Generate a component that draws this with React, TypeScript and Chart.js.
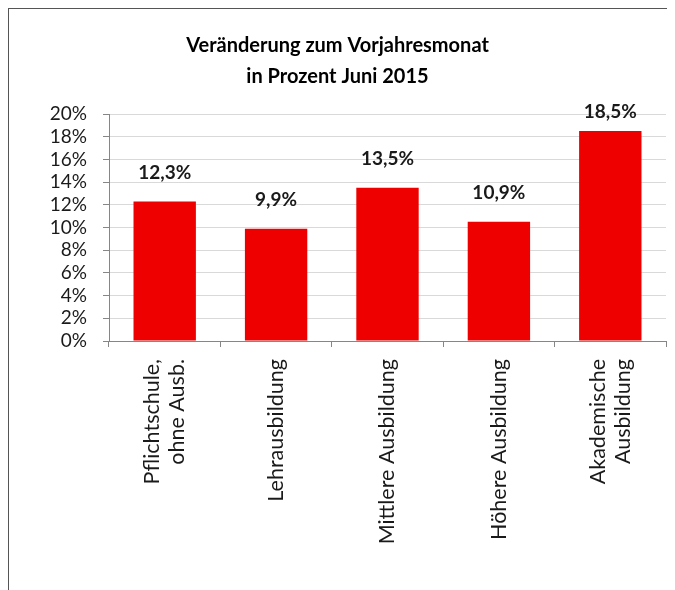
import React, { useEffect, useRef } from "react";
import { Chart, registerables } from "chart.js";

Chart.register(...registerables);

const categories: (string | string[])[] = [
  ["Pflichtschule,", "ohne Ausb."],
  "Lehrausbildung",
  "Mittlere Ausbildung",
  "Höhere Ausbildung",
  ["Akademische", "Ausbildung"],
];
const values = [12.3, 9.9, 13.5, 10.5, 18.5];
const valueLabels = ["12,3%", "9,9%", "13,5%", "10,9%", "18,5%"];
const titleLines = ["Veränderung zum Vorjahresmonat", "in Prozent Juni 2015"];

const FONT = "Lato, sans-serif";
const AXIS = "#868686";
const TEXT = "#1a1a1a";

const labelPlugin = {
  id: "valueLabels",
  afterDatasetsDraw(chart: any) {
    const { ctx, chartArea } = chart;
    const meta = chart.getDatasetMeta(0);
    ctx.save();
    ctx.font = `bold 19px ${FONT}`;
    ctx.fillStyle = TEXT;
    ctx.textAlign = "center";
    ctx.textBaseline = "middle";
    meta.data.forEach((bar: any, i: number) => {
      const y = Math.max(bar.y - 29, chartArea.top - 2);
      ctx.fillText(valueLabels[i], bar.x, y);
    });
    ctx.restore();
  },
};

// rotated category labels, each block centred on its category
const xLabelPlugin = {
  id: "xLabels",
  afterDraw(chart: any) {
    const { ctx, chartArea } = chart;
    const xs = chart.scales.x;
    const lh = 25;
    ctx.save();
    ctx.font = `21.5px ${FONT}`;
    ctx.fillStyle = TEXT;
    ctx.textAlign = "right";
    ctx.textBaseline = "middle";
    categories.forEach((lab, i) => {
      const lines = Array.isArray(lab) ? lab : [lab];
      const cx = xs.getPixelForValue(i);
      ctx.save();
      ctx.translate(cx, chartArea.bottom + 18);
      ctx.rotate(-Math.PI / 2);
      lines.forEach((ln, j) => {
        ctx.fillText(ln, 0, (j - (lines.length - 1) / 2) * lh);
      });
      ctx.restore();
    });
    ctx.restore();
  },
};

export default function App() {
  const ref = useRef<HTMLCanvasElement>(null);
  useEffect(() => {
    document.documentElement.style.overflow = "hidden";
    document.body.style.overflow = "hidden";
    if (!ref.current) return;
    const chart = new Chart(ref.current, {
      type: "bar",
      data: {
        labels: categories,
        datasets: [
          {
            data: values,
            backgroundColor: "#EE0000",
            borderWidth: 0,
            barPercentage: 0.56,
            categoryPercentage: 1,
          },
        ],
      },
      options: {
        animation: false,
        responsive: false,
        layout: { padding: { top: 0, right: 9, bottom: 0, left: 0 } },
        plugins: {
          legend: { display: false },
          tooltip: { enabled: false },
          title: {
            display: true,
            text: titleLines,
            color: "#000",
            font: { family: FONT, size: 20, weight: "bold", lineHeight: 1.55 },
            padding: { top: 21, bottom: 22 },
          },
        },
        scales: {
          y: {
            min: 0,
            max: 20,
            afterFit: (s: any) => { s.width = 100; },
            ticks: {
              stepSize: 2,
              autoSkip: false,
              color: TEXT,
              font: { family: FONT, size: 19 },
              padding: 16,
              callback: (v: any) => v + "%",
            },
            grid: {
              color: "#d9d9d9",
              borderDash: [2, 2],
              tickColor: AXIS,
              tickLength: 6,
              tickBorderDash: [],
            },
            border: { color: AXIS, dash: [] },
          },
          x: {
            afterFit: (s: any) => { s.height = 249; },
            ticks: { display: false },
            grid: {
              offset: true,
              drawOnChartArea: false,
              color: AXIS,
              tickLength: 6,
            },
            border: { color: AXIS },
          },
        },
      },
      plugins: [labelPlugin, xLabelPlugin],
    });
    return () => chart.destroy();
  }, []);
  return (
    <div
      style={{
        width: 700,
        height: 620,
        border: "1px solid #555",
        background: "#fff",
      }}
    >
      <canvas ref={ref} width={666} height={581} style={{ display: "block" }} />
    </div>
  );
}
